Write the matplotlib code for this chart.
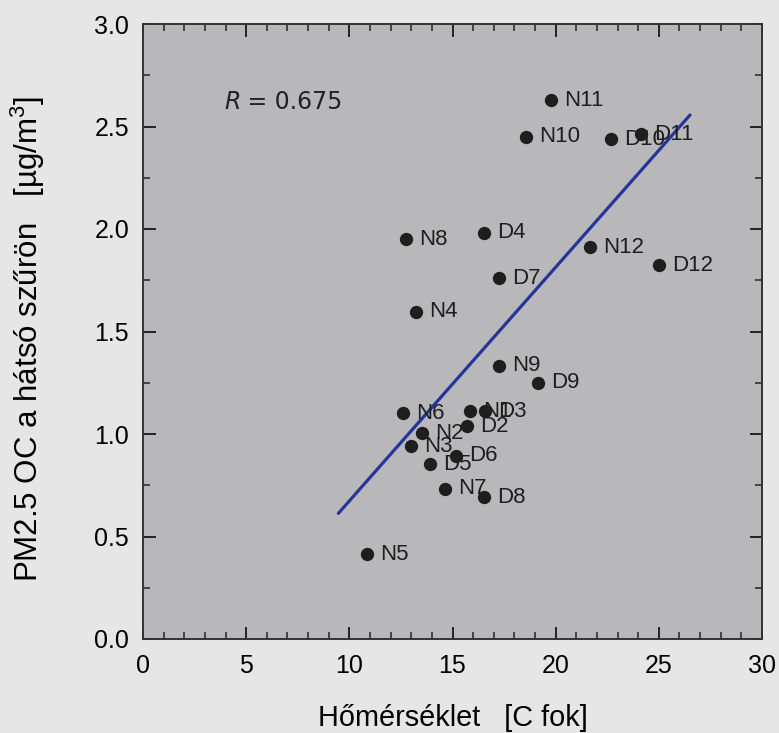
import matplotlib
matplotlib.use("Agg")
import matplotlib.pyplot as plt
from matplotlib.ticker import MultipleLocator

plt.rcParams['font.family'] = ['Liberation Sans', 'DejaVu Sans']
plt.rcParams['mathtext.fontset'] = 'custom'
plt.rcParams['mathtext.rm'] = 'Liberation Sans'
plt.rcParams['mathtext.it'] = 'Liberation Sans:italic'

labels = ["N11", "N10", "D10", "D11", "N8", "D4", "N12", "D12", "D7", "N4",
          "N9", "D9", "N6", "N1", "D3", "D2", "N2", "N3", "D6", "D5", "N7", "D8", "N5"]
temperature = [19.76, 18.56, 22.67, 24.14, 12.73, 16.53, 21.66, 25.02, 17.25, 13.23,
               17.25, 19.14, 12.62, 15.85, 16.58, 15.72, 13.54, 12.97, 15.16, 13.91, 14.64, 16.53, 10.84]
oc = [2.629, 2.450, 2.439, 2.463, 1.950, 1.982, 1.911, 1.823, 1.760, 1.597,
      1.332, 1.249, 1.101, 1.112, 1.112, 1.039, 1.003, 0.941, 0.893, 0.852, 0.732, 0.691, 0.413]

fit_x = [9.47, 26.51]
fit_y = [0.613, 2.556]

fig = plt.figure(figsize=(7.79, 7.33), dpi=100, facecolor='#e6e6e6')
ax = fig.add_axes([143/779, 1-639/733, (762-143)/779, (639-24)/733])
ax.set_facecolor('#b8b8ba')

ax.plot(fit_x, fit_y, color='#27359a', lw=2.3, solid_capstyle='round', zorder=2)
ax.scatter(temperature, oc, s=92, color='#1e1e1e', zorder=3, linewidths=0)
for lx, ly, lab in zip(temperature, oc, labels):
    ax.annotate(lab, (lx, ly), xytext=(9.4, 0), textcoords='offset points',
                va='center', ha='left', fontsize=16, color='#1e1e1e', zorder=4)

ax.text(3.95, 2.621, "R", fontsize=17, style='italic', family='DejaVu Sans',
        va='center', ha='left', color='#222222')
ax.text(3.95 + 0.77, 2.621, " = 0.675", fontsize=17, family='DejaVu Sans',
        va='center', ha='left', color='#222222')

ax.set_xlim(0, 30)
ax.set_ylim(0, 3.0)
ax.xaxis.set_major_locator(MultipleLocator(5))
ax.xaxis.set_minor_locator(MultipleLocator(1))
ax.yaxis.set_minor_locator(MultipleLocator(0.25))
ax.set_yticks([0, 0.5, 1.0, 1.5, 2.0, 2.5, 3.0])
ax.set_yticklabels(["0.0", "0.5", "1.0", "1.5", "2.0", "2.5", "3.0"])
ax.tick_params(which='both', direction='in', top=True, right=True, color='#222222')
ax.tick_params(which='major', length=9, width=1.4, labelsize=18, pad=10)
ax.tick_params(axis='x', which='major', pad=11)
ax.tick_params(which='minor', length=5, width=1.1)
for sp in ax.spines.values():
    sp.set_linewidth(1.4)
    sp.set_color('#333333')

ax.set_xlabel("Hőmérséklet   [C fok]", fontsize=20.8)
ax.set_ylabel("PM2.5 OC a hátsó szűrön   [µg/m$^{3}$]", fontsize=22.5)
ax.xaxis.label.set_va('center')
ax.yaxis.label.set_va('center')
ax.xaxis.set_label_coords(0.5, (639 - 718) / 615)
ax.yaxis.set_label_coords((28 - 143) / 619, (639 - 339) / 615)

fig.savefig("out.png", dpi=100, facecolor=fig.get_facecolor())
